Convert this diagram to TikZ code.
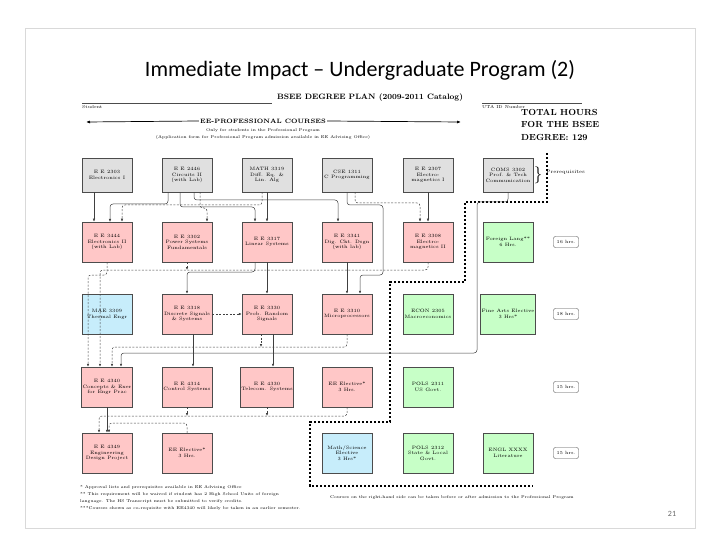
\documentclass[tikz,border=0pt]{standalone}
\usepackage{fontspec}
\newfontfamily\titlefont{Carlito}
\usetikzlibrary{arrows.meta,calc}
\begin{document}
\begin{tikzpicture}[x=1pt,y=-1pt,
  box/.style={draw=black!70,line width=0.5pt,minimum width=50pt,minimum height=40pt,inner sep=1pt,align=center,font=\fontsize{4.8}{5.6}\selectfont},
  gbox/.style={box,fill=black!12,minimum height=34pt},
  pbox/.style={box,fill=red!22},
  cbox/.style={box,fill=cyan!22},
  nbox/.style={box,fill=green!22},
  hbox/.style={draw=black!70,rounded corners=2pt,minimum width=25pt,minimum height=11pt,inner sep=1pt,font=\fontsize{4.6}{5}\selectfont},
  sl/.style={draw=black!75,line width=0.5pt,rounded corners=3pt,-{Latex[length=3pt,width=2.5pt]}},
  dl/.style={sl,dash pattern=on 2pt off 1.5pt},
  small/.style={font=\fontsize{4.3}{5}\selectfont,inner sep=0pt}]
\useasboundingbox (0,0) rectangle (720,540);
\draw[black!15] (25,28) rectangle (695,528);
\node[font=\titlefont\fontsize{22}{24}\selectfont] (title) at (360,70) {Immediate Impact – Undergraduate Program (2)};
\node[font=\titlefont\fontsize{8}{9}\selectfont,text=black!60] (pg) at (672,514) {21};
% header
\node[font=\bfseries\fontsize{7.8}{8}\selectfont] (hdr) at (370,98) {BSEE DEGREE PLAN (2009-2011 Catalog)};
\coordinate (s1) at (82,103); \coordinate (s2) at (272,103);
\draw[black!70,line width=0.4pt] (s1) -- (s2);
\coordinate (u1) at (482,103); \coordinate (u2) at (582,103);
\draw[black!70,line width=0.4pt] (u1) -- (u2);
\node[small,anchor=west] (stud) at (82,107) {Student};
\node[small,anchor=west] (uta) at (482,107) {UTA ID Number};
\node[font=\bfseries\fontsize{8.8}{12.5}\selectfont,align=left,anchor=north west,inner sep=0pt] (tot) at (521,109) {TOTAL HOURS\\FOR THE BSEE\\DEGREE: 129};
\node[font=\bfseries\fontsize{6.3}{7}\selectfont,inner sep=1pt] (eep) at (263,121) {EE-PROFESSIONAL COURSES};
\coordinate (ea) at (86,122); \coordinate (eb) at (461,122);
\draw[-{Latex[length=4pt]},line width=0.7pt] (eep.west) -- (ea);
\draw[-{Latex[length=4pt]},line width=0.7pt] (eep.east) -- (eb);
\node[small,align=center,font=\fontsize{4.1}{6.5}\selectfont] (sub) at (263,134) {Only for students in the Professional Program\\(Application form for Professional Program admission available in EE Advising Office)};
% row1
\node[gbox] (e2303) at (107,175) {E E 2303\\Electronics I};
\node[gbox] (e2446) at (187,175) {E E 2446\\Circuits II\\(with Lab)};
\node[gbox] (m3319) at (267,175) {MATH 3319\\Diff. Eq. \&\\Lin. Alg};
\node[gbox] (c1311) at (347,175) {CSE 1311\\C Programming};
\node[gbox] (e2307) at (428,175) {E E 2307\\Electro-\\magnetics I};
\node[gbox] (coms) at (508,175) {COMS 3302\\Prof. \& Tech\\Communication};
\node[font=\fontsize{17}{17}\selectfont,inner sep=0pt] (br) at (538,175) {\}};
\node[small,anchor=west,font=\fontsize{5}{6}\selectfont] (pre) at (546,172) {Prerequisites};
% row2
\node[pbox] (e3444) at (107,242) {E E 3444\\Electronics II\\(with Lab)};
\node[pbox] (e3302) at (187,242) {E E 3302\\Power Systems\\Fundamentals};
\node[pbox] (e3317) at (267,242) {E E 3317\\Linear Systems};
\node[pbox] (e3341) at (347,242) {E E 3341\\Dig. Ckt. Dsgn\\(with lab)};
\node[pbox] (e3308) at (428,242) {E E 3308\\Electro-\\magnetics II};
\node[nbox] (flang) at (508,242) {Foreign Lang**\\6 Hrs.};
\node[hbox] (h2) at (566,242) {16 hrs.};
% row3
\node[cbox] (mae) at (107,314) {MAE 3309\\Thermal Engr};
\node[pbox] (e3318) at (187,314) {E E 3318\\Discrete Signals\\\& Systems};
\node[pbox] (e3330) at (267,314) {E E 3330\\Prob. Random\\Signals};
\node[pbox] (e3310) at (347,314) {E E 3310\\Microprocessors};
\node[nbox] (econ) at (428,314) {ECON 2305\\Macroeconomics};
\node[nbox] (fine) at (508,314) {Fine Arts Elective\\3 Hrs*};
\node[hbox] (h3) at (566,314) {18 hrs.};
% row4
\node[pbox] (e4340) at (107,387) {E E 4340\\Concepts \& Exer\\for Engr Prac};
\node[pbox] (e4314) at (187,387) {E E 4314\\Control Systems};
\node[pbox] (e4330) at (267,387) {E E 4330\\Telecom. Systems};
\node[pbox] (eel1) at (347,387) {EE Elective*\\3 Hrs.};
\node[nbox] (pols1) at (428,387) {POLS 2311\\US Govt.};
\node[hbox] (h4) at (566,387) {15 hrs.};
% row5
\node[pbox] (e4349) at (107,453) {E E 4349\\Engineering\\Design Project};
\node[pbox] (eel2) at (187,453) {EE Elective*\\3 Hrs.};
\node[cbox] (msel) at (347,453) {Math/Science\\Elective\\3 Hrs*};
\node[nbox] (pols2) at (428,453) {POLS 2312\\State \& Local\\Govt.};
\node[nbox] (engl) at (508,453) {ENGL XXXX\\Literature};
\node[hbox] (h5) at (566,453) {15 hrs.};
% dotted boundary
\coordinate (d0) at (547,153); \coordinate (d1) at (547,202); \coordinate (d2) at (465,202);
\coordinate (d3) at (465,282); \coordinate (d4) at (390,282); \coordinate (d5) at (390,422);
\coordinate (d6) at (310,422); \coordinate (d7) at (310,486); \coordinate (d8) at (533,486);
\draw[line width=1.6pt,dash pattern=on 2.2pt off 1.8pt] (d0) -- (d1) -- (d2) -- (d3) -- (d4) -- (d5) -- (d6) -- (d7) -- (d8);
% solid connectors
\draw[sl] ([xshift=-13]e2303.south) -- ([xshift=-13]e3444.north);
\draw[sl] ([xshift=-19]e2446.south) -- (168,204) -| (110,222);
\draw[sl] ([xshift=-7]e2446.south) -- (180,207) -| ([xshift=-12]e3317.north);
\draw[sl] (m3319.south) -- (e3317.north);
\draw[sl] ([xshift=7]e2446.south) -- (194,200) -| ([xshift=-9]e3341.north);
\draw[sl] (c1311.south) -- (347,205) -| (383,275) -| ([xshift=13]e3310.north);
\draw[sl] (e3341.south) -- (e3310.north);
\draw[sl] (e2307.south) -- ([xshift=0]e3308.north);
\draw[sl] ([xshift=-12]e3317.south) -- (255,272) -| (e3318.north);
\draw[sl] (e3317.south) -- (e3330.north);
\draw[sl] ([xshift=6]e3318.south) -- ([xshift=6]e4314.north);
\draw[sl] ([xshift=6]e3330.south) -- ([xshift=6]e4330.north);
\draw[sl] (e4340.south) -- (e4349.north);
\draw[sl] ([xshift=0]coms.south) -- (508,202) -| (477,353) -| ([xshift=14]e4340.north);
% dashed connectors
\draw[dl] ([xshift=-5]m3319.south) -- (262,205) -| ([xshift=15]e3444.north);
\draw[dl] ([xshift=13]e2446.south) -- (200,208) -| ([xshift=20]e3302.north);
\draw[dl] ([xshift=8]c1311.south) -- (355,203) -| ([xshift=-8]e3308.north);
\draw[dl] (e3444.south) -- (107,275) -| ([xshift=-19]e4340.north);
\draw[dl] (e3308.south) -- (428,270) -| ([xshift=-7]e4340.north);
\draw[dl] (e3302.south) -- (187,270);
\draw[dl] (e3310.south) -- (347,347) -| ([xshift=5]e4340.north);
\draw[dl] ([xshift=-6]e3330.south) -- (261,347);
\draw[dl] (e3318.east) -- (e3330.west);
\draw[dl] (eel1.south) -- (347,416) -| ([xshift=-8]e4349.north);
\draw[dl] (e4314.south) -- (187,416);
\draw[dl] (e4330.south) -- (267,416);
\draw[dl] (eel2.north) -- (187,423) -| ([xshift=2]e4349.north);
% notes
\node[small,align=left,anchor=north west,font=\fontsize{4.1}{7.2}\selectfont] (notes) at (80,485) {* Approval lists and prerequisites available in EE Advising Office\\** This requirement will be waived if student has 2 High School Units of foreign\\language. The HS Transcript must be submitted to verify credits.\\***Courses shown as co-requisite with EE4340 will likely be taken in an earlier semester.};
\node[small,anchor=west,font=\fontsize{4.1}{5}\selectfont] (rnote) at (330,497) {Courses on the right-hand side can be taken before or after admission to the Professional Program};
\end{tikzpicture}
\end{document}
